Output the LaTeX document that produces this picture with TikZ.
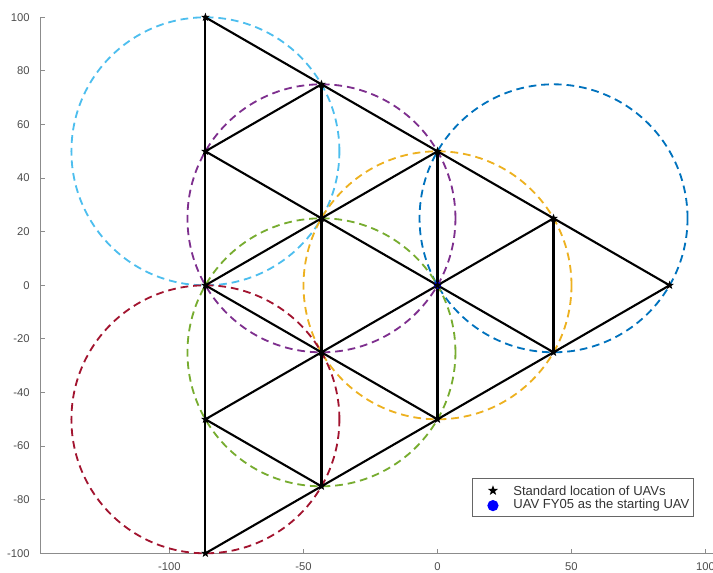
\documentclass[tikz,border=0pt]{standalone}
\usepackage{fontspec}
\setmainfont{Liberation Sans}
\usetikzlibrary{shapes.geometric}
\definecolor{cb}{HTML}{0072BD}
\definecolor{cy}{HTML}{EDB120}
\definecolor{cp}{HTML}{7E2F8E}
\definecolor{cg}{HTML}{77AC30}
\definecolor{cl}{HTML}{4DBEEE}
\definecolor{cr}{HTML}{A2142F}

\begin{document}
\begin{tikzpicture}[x=0.067cm,y=0.067cm,
  ring/.style={line width=1.3pt,dash pattern=on 5.5pt off 3.5pt},
  link/.style={line width=1.5pt,black,line cap=round},
  uav/.style={star,star points=5,star point ratio=2.4,fill=black,minimum size=6.5pt,inner sep=0pt},
  axisline/.style={black!45,line width=0.8pt},
  ticklab/.style={font=\fontsize{8}{9}\selectfont,text=black!70},
  legtxt/.style={font=\fontsize{9.3}{11}\selectfont,text=black!80,anchor=west,inner sep=0pt}]
  \useasboundingbox (-163.25,-106.98) rectangle (102.8,106.46);
  \def\h{43.3013}
  % lattice of standard locations
  \coordinate (a1) at (-2*\h,100);\coordinate (a2) at (-2*\h,50);\coordinate (a3) at (-2*\h,0);
  \coordinate (a4) at (-2*\h,-50);\coordinate (a5) at (-2*\h,-100);
  \coordinate (b1) at (-\h,75);\coordinate (b2) at (-\h,25);\coordinate (b3) at (-\h,-25);\coordinate (b4) at (-\h,-75);
  \coordinate (c1) at (0,50);\coordinate (c2) at (0,0);\coordinate (c3) at (0,-50);
  \coordinate (d1) at (\h,25);\coordinate (d2) at (\h,-25);
  \coordinate (e1) at (2*\h,0);
  % axes
  \draw[axisline] (-148,100)--(-148,-100)--(102.8,-100);
  \foreach \y [count=\i] in {-100,-80,...,100}{\draw[axisline] (-148,\y)--++(1.6,0);
     \node[ticklab,anchor=east] (yl\i) at (-150.3,\y){\y};}
  \foreach \x [count=\i] in {-100,-50,0,50,100}{\draw[axisline] (\x,-100)--++(0,1.6);
     \node[ticklab,anchor=north] (xl\i) at (\x,-101.5){\x};}
  % coverage circles
  \foreach \c/\col in {a2/cl,b2/cp,d1/cb,c2/cy,b3/cg,a4/cr}
     \draw[ring,\col] (\c) circle (50);
  % triangles
  \draw[link] (a1)--(a5) (b1)--(b4) (c1)--(c3) (d1)--(d2);
  \draw[link] (a1)--(e1) (a2)--(d2) (a3)--(c3) (a4)--(b4);
  \draw[link] (a5)--(e1) (a4)--(d1) (a3)--(c1) (a2)--(b1);
  \node[circle,fill=blue!80!black,minimum size=5pt,inner sep=0pt] (start) at (c2){};
  \foreach \p in {a1,a2,a3,a4,a5,b1,b2,b3,b4,c1,c2,c3,d1,d2,e1}
     \node[uav] (s\p) at (\p){};
  % legend
  \draw[black!60,line width=0.5pt] (13.0,-72.0) rectangle (95.4,-86.3);
  \node[uav,minimum size=7.5pt] (lstar) at (20.7,-76.6){};
  \node[circle,fill=blue,minimum size=8pt,inner sep=0pt] (ldot) at (20.7,-82.2){};
  \node[legtxt] (ltxt1) at (28.2,-76.6){Standard location of UAVs};
  \node[legtxt] (ltxt2) at (28.2,-82.2){UAV FY05 as the starting UAV};
\end{tikzpicture}
\end{document}
